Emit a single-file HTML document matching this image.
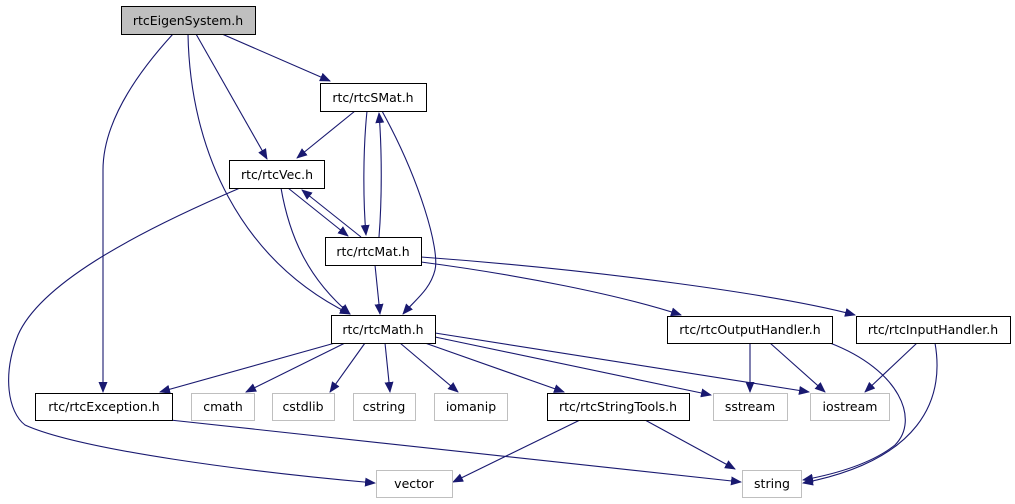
<!DOCTYPE html>
<html><head><meta charset="utf-8"><style>
html,body{margin:0;padding:0;background:#fff;}
svg{display:block;}
text{font-family:"DejaVu Sans","Liberation Sans",sans-serif;font-size:12.5px;fill:#000;}
</style></head><body>
<svg width="1015" height="504" viewBox="0 0 1015 504" xmlns="http://www.w3.org/2000/svg">
<defs>
<marker id="a" markerWidth="11" markerHeight="9" refX="10" refY="4.5" orient="auto" markerUnits="userSpaceOnUse">
<path d="M0,0 L11,4.5 L0,9 z" fill="#191970"/>
</marker>
</defs>
<g fill="none" stroke="#191970" stroke-width="1.1" marker-end="url(#a)">
<path d="M222,34 L330,81"/>
<path d="M196,34 L267,159"/>
<path d="M188,34 C190,150 240,260 350,314"/>
<path d="M173,34 C140,70 103,120 103,170 L103,392"/>
<path d="M355,111 L297,158"/>
<path d="M367,111 C363,150 363,200 366,235"/>
<path d="M379,237 C382,200 382,150 379,113"/>
<path d="M382,111 C420,180 440,250 435,270 C430,290 415,300 403,314"/>
<path d="M288,188 L348,236"/>
<path d="M361,237 L302,190"/>
<path d="M281,188 C290,240 310,280 350,314"/>
<path d="M240,188 C130,235 40,285 18,335 C2,375 8,412 25,425 C80,450 250,472 375,483"/>
<path d="M375,265 L380,314"/>
<path d="M421,262 C520,275 620,295 681,315"/>
<path d="M421,257 C600,270 780,295 855,315"/>
<path d="M335,343 L160,392"/>
<path d="M345,343 L246,392"/>
<path d="M365,343 L330,392"/>
<path d="M385,343 L390,392"/>
<path d="M400,343 L458,392"/>
<path d="M425,343 L564,392"/>
<path d="M435,337 L711,395"/>
<path d="M435,333 L809,392"/>
<path d="M750,343 L750,392"/>
<path d="M770,343 L825,392"/>
<path d="M830,343 C900,370 920,420 895,445 C870,465 830,475 803,480"/>
<path d="M917,343 L865,392"/>
<path d="M935,343 C945,400 920,460 803,483"/>
<path d="M170,420 L741,482"/>
<path d="M580,420 L453,482"/>
<path d="M645,420 L735,469"/>
</g>
<g stroke-width="1">
<rect x="121.5" y="6.5" width="134" height="28" fill="#bfbfbf" stroke="#000"/>
<rect x="320.5" y="83.5" width="106" height="28" fill="#fff" stroke="#000"/>
<rect x="229.5" y="160.5" width="95" height="28" fill="#fff" stroke="#000"/>
<rect x="325.5" y="237.5" width="96" height="28" fill="#fff" stroke="#000"/>
<rect x="331.5" y="315.5" width="104" height="28" fill="#fff" stroke="#000"/>
<rect x="667.5" y="316.5" width="165" height="27" fill="#fff" stroke="#000"/>
<rect x="856.5" y="316.5" width="154" height="27" fill="#fff" stroke="#000"/>
<rect x="35.5" y="393.5" width="137" height="27" fill="#fff" stroke="#000"/>
<rect x="547.5" y="393.5" width="142" height="27" fill="#fff" stroke="#000"/>
<rect x="191.5" y="393.5" width="63" height="27" fill="#fff" stroke="#bfbfbf"/>
<rect x="272.5" y="393.5" width="62" height="27" fill="#fff" stroke="#bfbfbf"/>
<rect x="353.5" y="393.5" width="62" height="27" fill="#fff" stroke="#bfbfbf"/>
<rect x="434.5" y="393.5" width="73" height="27" fill="#fff" stroke="#bfbfbf"/>
<rect x="713.5" y="393.5" width="74" height="27" fill="#fff" stroke="#bfbfbf"/>
<rect x="810.5" y="393.5" width="79" height="27" fill="#fff" stroke="#bfbfbf"/>
<rect x="376.5" y="470.5" width="76" height="27" fill="#fff" stroke="#bfbfbf"/>
<rect x="742.5" y="470.5" width="59" height="27" fill="#fff" stroke="#bfbfbf"/>
</g>
<g text-anchor="middle">
<text x="188" y="25">rtcEigenSystem.h</text>
<text x="373" y="102">rtc/rtcSMat.h</text>
<text x="277" y="179">rtc/rtcVec.h</text>
<text x="373" y="256">rtc/rtcMat.h</text>
<text x="383" y="334">rtc/rtcMath.h</text>
<text x="750" y="334">rtc/rtcOutputHandler.h</text>
<text x="933" y="334">rtc/rtcInputHandler.h</text>
<text x="104" y="411">rtc/rtcException.h</text>
<text x="618" y="411">rtc/rtcStringTools.h</text>
<text x="223" y="411">cmath</text>
<text x="303" y="411">cstdlib</text>
<text x="384" y="411">cstring</text>
<text x="471" y="411">iomanip</text>
<text x="750" y="411">sstream</text>
<text x="850" y="411">iostream</text>
<text x="414" y="488">vector</text>
<text x="772" y="488">string</text>
</g>
</svg>
</body></html>
